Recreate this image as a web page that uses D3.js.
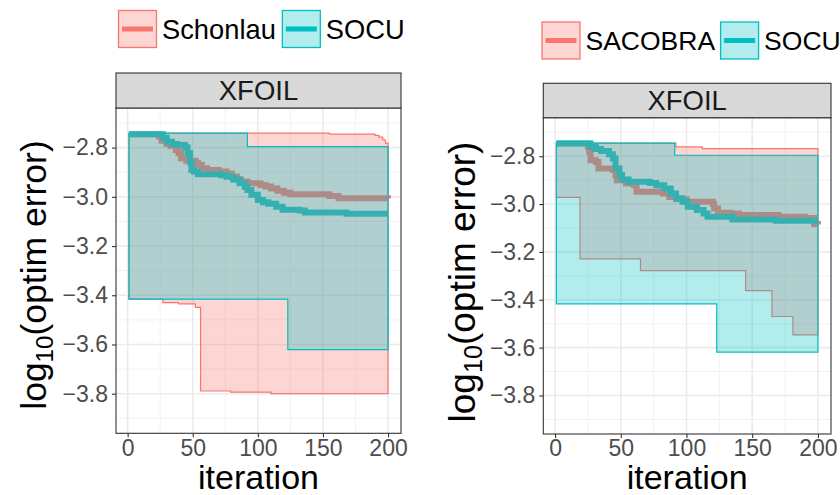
<!DOCTYPE html>
<html><head><meta charset="utf-8">
<script src="https://cdn.jsdelivr.net/npm/d3@7"></script>
<style>body{margin:0;background:#fff}svg{display:block;font-family:"Liberation Sans",Arial,sans-serif}</style>
</head><body>
<svg id="c" width="840" height="495"></svg>
<script>
// ---------- data ----------
const facetTitle = "XFOIL";
const xTicks = [0, 50, 100, 150, 200];
const xMinor = [25, 75, 125, 175];
const yTicks = [-3.8, -3.6, -3.4, -3.2, -3.0, -2.8];
const yMinor = [-3.9, -3.7, -3.5, -3.3, -3.1, -2.9, -2.7];
const leftSeries = ["Schonlau", "SOCU"];
const rightSeries = ["SACOBRA", "SOCU"];
const colors = ["#F8766D", "#00BFC4"];

// left panel: median lines  [iteration, log10 error]  (step changes)
const leftSchonlauMed = [[1,-2.746],[24,-2.755],[26,-2.772],[30,-2.785],[33,-2.793],[37,-2.81],[39,-2.823],[41,-2.843],[45,-2.853],[52,-2.862],[54,-2.870],[57,-2.884],[61,-2.891],[70,-2.897],[76,-2.905],[80,-2.918],[84,-2.93],[87,-2.938],[92,-2.945],[102,-2.952],[106,-2.958],[110,-2.966],[115,-2.975],[120,-2.983],[125,-2.99],[155,-2.997],[162,-3.006],[200,-3.007]];
const leftSocuMed = [[1,-2.746],[27,-2.76],[30,-2.776],[34,-2.785],[38,-2.789],[44,-2.80],[46,-2.823],[48,-2.86],[49,-2.891],[51,-2.897],[54,-2.908],[72,-2.912],[76,-2.918],[81,-2.93],[86,-2.945],[90,-2.96],[92,-2.972],[95,-2.992],[100,-3.013],[104,-3.022],[108,-3.028],[114,-3.04],[119,-3.053],[132,-3.056],[136,-3.064],[168,-3.069],[200,-3.069]];
// left panel: ribbon bounds
const leftSchonlauLo = [[1,-3.416],[27,-3.43],[39,-3.435],[52,-3.449],[56,-3.789],[79,-3.794],[110,-3.80],[200,-3.80]];
const leftSchonlauHi = [[1,-2.741],[155,-2.745],[190,-2.75],[193,-2.757],[196,-2.768],[198,-2.782],[200,-2.797]];
const leftSocuLo = [[1,-3.416],[123,-3.621],[200,-3.621]];
const leftSocuHi = [[1,-2.741],[92,-2.796],[200,-2.796]];

// right panel: median lines
const rightSacobraMed = [[1,-2.747],[25,-2.76],[26,-2.782],[27,-2.817],[31,-2.824],[33,-2.851],[44,-2.858],[46,-2.88],[47,-2.9],[54,-2.914],[60,-2.921],[62,-2.949],[82,-2.956],[87,-2.97],[92,-2.98],[100,-2.99],[120,-3.0],[121,-3.018],[124,-3.036],[134,-3.039],[140,-3.046],[170,-3.053],[190,-3.058],[197,-3.083],[200,-3.085]];
const rightSocuMed = [[1,-2.747],[27,-2.76],[31,-2.77],[35,-2.778],[41,-2.792],[44,-2.81],[46,-2.851],[49,-2.879],[51,-2.897],[56,-2.907],[72,-2.912],[77,-2.921],[83,-2.935],[88,-2.956],[92,-2.976],[97,-2.99],[101,-3.011],[108,-3.025],[113,-3.039],[116,-3.053],[135,-3.064],[168,-3.07],[200,-3.07]];
// right panel: ribbon bounds
const rightSacobraLo = [[1,-2.972],[19,-3.229],[65,-3.278],[145,-3.362],[165,-3.47],[181,-3.547],[200,-3.547]];
const rightSacobraHi = [[1,-2.745],[92,-2.761],[112,-2.768],[200,-2.768]];
const rightSocuLo = [[1,-3.417],[123,-3.619],[200,-3.619]];
const rightSocuHi = [[1,-2.745],[91,-2.796],[200,-2.796]];

// ---------- drawing ----------
const svg = d3.select("#c");
const fmt = v => (v < 0 ? "\u2212" : "") + Math.abs(v).toFixed(1);

function stepAt(arr, it) { let v = arr[0][1]; for (const p of arr) { if (p[0] <= it) v = p[1]; } return v; }
function ribbon(lo, hi) {
  const its = Array.from(new Set(lo.map(d => d[0]).concat(hi.map(d => d[0])))).sort((a, b) => a - b);
  return its.map(it => ({ it, lo: stepAt(lo, it), hi: stepAt(hi, it) }));
}

function panel(cfg) {
  const g = svg.append("g");
  const x = d3.scaleLinear().domain([-8.95, 209.95]).range([cfg.x0, cfg.x1]);
  const y = d3.scaleLinear().domain([-3.961, -2.639]).range([cfg.y1, cfg.y0]);
  const id = "clip" + cfg.key;
  svg.append("clipPath").attr("id", id).append("rect")
    .attr("x", cfg.x0).attr("y", cfg.y0).attr("width", cfg.x1 - cfg.x0).attr("height", cfg.y1 - cfg.y0);
  g.append("rect").attr("x", cfg.x0).attr("y", cfg.y0).attr("width", cfg.x1 - cfg.x0).attr("height", cfg.y1 - cfg.y0).attr("fill", "#fff");
  // grid
  const grid = g.append("g");
  xMinor.forEach(v => grid.append("line").attr("x1", x(v)).attr("x2", x(v)).attr("y1", cfg.y0).attr("y2", cfg.y1).attr("stroke", "#f2f2f2").attr("stroke-width", 1));
  yMinor.forEach(v => grid.append("line").attr("y1", y(v)).attr("y2", y(v)).attr("x1", cfg.x0).attr("x2", cfg.x1).attr("stroke", "#f2f2f2").attr("stroke-width", 1));
  xTicks.forEach(v => grid.append("line").attr("x1", x(v)).attr("x2", x(v)).attr("y1", cfg.y0).attr("y2", cfg.y1).attr("stroke", "#ebebeb").attr("stroke-width", 1.6));
  yTicks.forEach(v => grid.append("line").attr("y1", y(v)).attr("y2", y(v)).attr("x1", cfg.x0).attr("x2", cfg.x1).attr("stroke", "#ebebeb").attr("stroke-width", 1.6));

  const data = g.append("g").attr("clip-path", `url(#${id})`);
  const line = d3.line().x(d => x(d[0])).y(d => y(d[1])).curve(d3.curveStepAfter);
  cfg.meds.forEach((m, i) => data.append("path").attr("d", line(m)).attr("fill", "none")
    .attr("stroke", colors[i]).attr("stroke-width", 6));
  const area = d3.area().x(d => x(d.it)).y0(d => y(d.lo)).y1(d => y(d.hi)).curve(d3.curveStepAfter);
  cfg.ribs.forEach((r, i) => data.append("path").attr("d", area(ribbon(r[0], r[1])) + "Z")
    .attr("fill", colors[i]).attr("fill-opacity", 0.3).attr("stroke", colors[i]).attr("stroke-width", 1.2));

  g.append("rect").attr("x", cfg.x0).attr("y", cfg.y0).attr("width", cfg.x1 - cfg.x0).attr("height", cfg.y1 - cfg.y0)
    .attr("fill", "none").attr("stroke", "#333").attr("stroke-width", 1.1);
  // strip
  g.append("rect").attr("x", cfg.x0).attr("y", cfg.sy).attr("width", cfg.x1 - cfg.x0).attr("height", cfg.y0 - cfg.sy)
    .attr("fill", "#d9d9d9").attr("stroke", "#333").attr("stroke-width", 1.1);
  g.append("text").attr("x", (cfg.x0 + cfg.x1) / 2).attr("y", (cfg.sy + cfg.y0) / 2 + 9.8).attr("text-anchor", "middle")
    .attr("font-size", 27.5).attr("fill", "#1a1a1a").text(facetTitle);

  // axes
  const ya = g.append("g").attr("transform", `translate(${cfg.x0},0)`)
    .call(d3.axisLeft(y).tickValues(yTicks).tickFormat(fmt).tickSize(4).tickPadding(4));
  const xa = g.append("g").attr("transform", `translate(0,${cfg.y1})`)
    .call(d3.axisBottom(x).tickValues(xTicks).tickFormat(d3.format("d")).tickSize(4).tickPadding(2));
  [ya, xa].forEach(a => {
    a.select(".domain").remove();
    a.selectAll(".tick line").attr("stroke", "#333").attr("stroke-width", 1.1);
    a.selectAll(".tick text").attr("fill", "#4d4d4d").attr("font-size", 23).attr("font-family", "Liberation Sans, Arial, sans-serif");
  });
  // titles
  g.append("text").attr("x", (cfg.x0 + cfg.x1) / 2).attr("y", 489).attr("text-anchor", "middle")
    .attr("font-size", 34).attr("fill", "#000").text("iteration");
  const yt = g.append("text").attr("transform", `translate(${cfg.tx},${cfg.tc}) rotate(-90)`)
    .attr("text-anchor", "middle").attr("font-size", cfg.tf).attr("fill", "#000");
  yt.append("tspan").text("log");
  yt.append("tspan").attr("font-size", cfg.tf * 0.68).attr("dy", 7).text("10");
  yt.append("tspan").attr("dy", -7).text("(optim error)");

  // legend
  const lg = g.append("g");
  let lx = cfg.lx;
  cfg.names.forEach((n, i) => {
    lg.append("rect").attr("x", lx + 0.5).attr("y", cfg.ly + 0.5).attr("width", 38).attr("height", 37)
      .attr("fill", colors[i]).attr("fill-opacity", 0.3).attr("stroke", colors[i]).attr("stroke-width", 1.3);
    lg.append("line").attr("x1", lx + 4).attr("x2", lx + 35).attr("y1", cfg.ly + 19).attr("y2", cfg.ly + 19)
      .attr("stroke", colors[i]).attr("stroke-width", 5);
    const t = lg.append("text").attr("x", lx + 44).attr("y", cfg.ly + 28.5).attr("font-size", cfg.lf).attr("fill", "#000").text(n);
    lx += 44 + t.node().getComputedTextLength() + cfg.gap;
  });
}

panel({ key: "L", x0: 116, x1: 401, y0: 108, y1: 433.3, sy: 73, tx: 45.5, tc: 275, tf: 35.5, lx: 118, ly: 10, lf: 27.3, gap: 6,
  names: leftSeries, meds: [leftSchonlauMed, leftSocuMed],
  ribs: [[leftSchonlauLo, leftSchonlauHi], [leftSocuLo, leftSocuHi]] });
panel({ key: "R", x0: 543.3, x1: 831, y0: 117.7, y1: 434, sy: 83.3, tx: 475, tc: 282, tf: 37, lx: 541.5, ly: 21.5, lf: 26.5, gap: 5,
  names: rightSeries, meds: [rightSacobraMed, rightSocuMed],
  ribs: [[rightSacobraLo, rightSacobraHi], [rightSocuLo, rightSocuHi]] });
</script>
</body></html>
